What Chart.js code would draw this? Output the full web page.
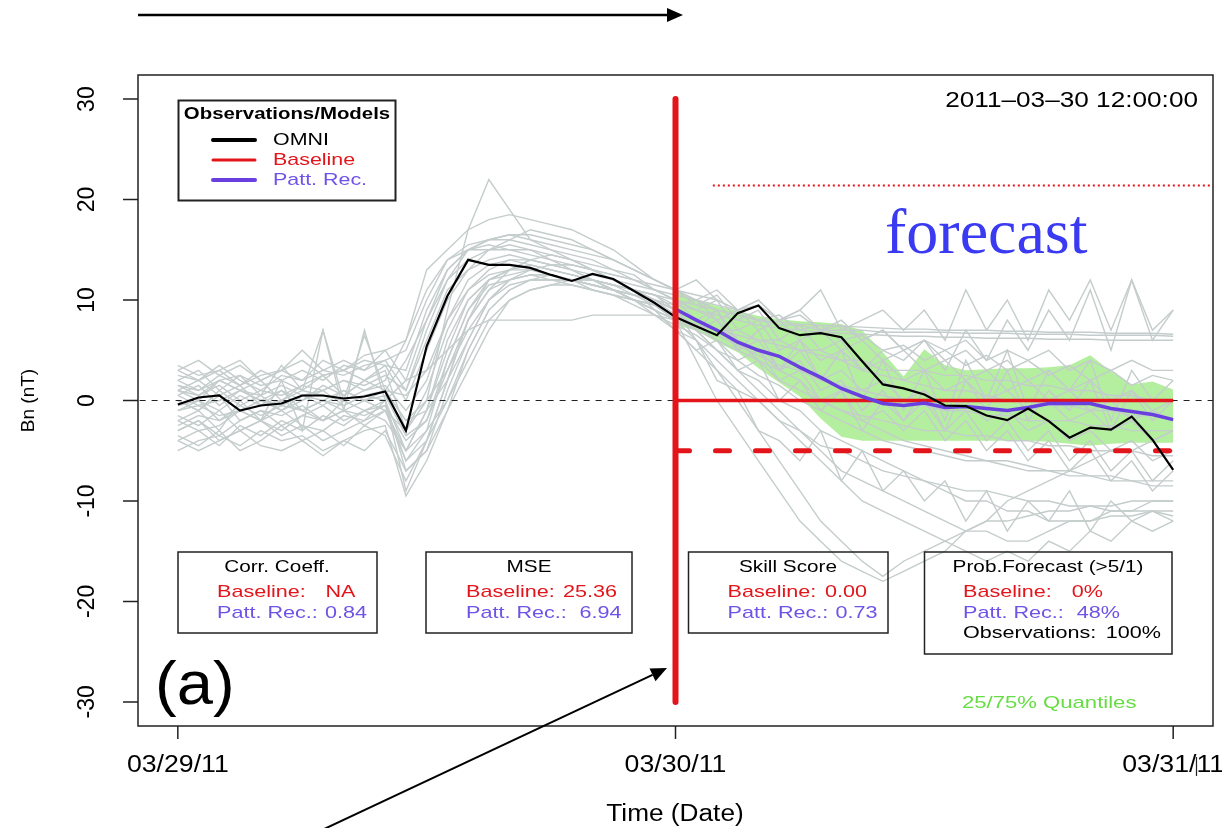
<!DOCTYPE html>
<html>
<head>
<meta charset="utf-8">
<script src="https://cdn.jsdelivr.net/npm/chart.js@4.4.1/dist/chart.umd.min.js"></script>
<style>
  html, body { margin: 0; padding: 0; background: #fff; }
  #wrap { width: 1222px; height: 828px; }
</style>
</head>
<body>
<div id="wrap"><canvas id="bn" width="1222" height="828"></canvas></div>
<script>
// hours since 03/29/11 00:00
const hours = [0,1,2,3,4,5,6,7,8,9,10,11,12,13,14,15,16,17,18,19,20,21,22,23,24,
               25,26,27,28,29,30,31,32,33,34,35,36,37,38,39,40,41,42,43,44,45,46,47,48];
const fcHours = hours.slice(24);

// OMNI observed Bn (nT)
const omni = [-0.4,0.3,0.5,-1.0,-0.5,-0.3,0.5,0.5,0.2,0.4,0.9,-3.0,
  5.4,10.4,14.0,13.5,13.5,13.2,12.5,11.9,12.6,12.1,10.9,9.7,
  8.3,7.4,6.5,8.7,9.45,7.2,6.5,6.7,6.3,3.9,1.6,1.2,
  0.6,-0.5,-0.55,-1.5,-1.95,-0.8,-2.05,-3.7,-2.7,-2.9,-1.6,-3.9,-6.9];

// pattern recognition forecast (median), hours 24..48
const pattRec = [9.1,8.0,7.0,5.8,5.0,4.4,3.3,2.3,1.2,0.4,-0.3,-0.5,-0.25,-0.7,-0.6,-0.8,-1.0,-0.7,-0.3,-0.3,-0.3,-0.8,-1.1,-1.4,-1.9];
// 25/75% quantiles, hours 24..48
const q75 = [10.9,10.0,9.4,8.9,8.4,8.1,7.9,7.8,7.6,7.0,4.8,2.4,5.1,3.5,3.0,3.1,3.2,3.2,3.3,3.5,4.5,2.9,1.6,1.9,1.1];
const q25 = [7.5,7.0,5.8,4.8,3.2,1.8,0.4,-1.8,-3.6,-4.0,-4.0,-4.0,-4.0,-4.0,-4.0,-4.0,-4.0,-4.0,-4.1,-4.3,-4.5,-4.3,-4.2,-4.2,-4.2];

// analogue ensemble members (grey)
const m01 = [1,0.5,1.5,0,1,0.5,1.5,1,2,1.5,2.5,1, 6,11,13,14,14.5,14,13.5,13,12.5,12,11,10.5, 10,9.5,9,8.5,8,7.8,7.6,7.5,7.4,7.3,7.2,7.1, 7.1,7,7,7,6.9,6.9,6.8,6.8,6.8,6.7,6.7,6.7,6.6];
const m02 = [-1,-0.5,-1.5,-1,0,-0.5,0.5,0,-1,0,1,0.5, 3,8,11,12.5,13,13.5,13,12.5,12,11.5,11,10, 9.5,9,8.5,8,7.5,7.2,7,6.8,6.7,6.6,6.5,6.4, 6.4,6.3,6.3,6.2,6.2,6.2,6.1,6.1,6.1,6,6,6,6];
const m03 = [2,3,1,2.5,0.5,3.5,1,7,0,6.5,1,-2, 0,9,17,22,19,16,15,14,13,12,11,9, 8,7,9,6,4,3,5,2,3,1,2,0, 1,-1,0,-2,-1,-3,-2,-4,-3,-5,-4,-6,-5];
const m04 = [-3,-2,-4,-3,-2,-3.5,-2.5,-4,-3,-2,-1,-6, -3,4,9,12,13,14,13.5,13,12,11,10.5,10, 9,6,3,0,-3,-6,-9,-12,-14,-16,-17.5,-16, -15,-14,-13,-12,-12,-11.5,-11,-11,-10.5,-10.5,-10,-10,-10];
const m05 = [3,2,3.5,2,1,2.5,2,3,2.5,3.5,4,1, 7,12,15,16,16.5,16,15.5,15,14.5,14,13,12, 11,12,10,9,10,8,9,11,7,8,9,7, 9,6,11,7,10,6,11,8,12,7,12,7,9];
const m06 = [0,-1,0.5,-2,-1,-1.5,-0.5,-2,-1,-1.5,-0.5,-4, -2,3,7,10,11.5,12,12.5,12,11.5,11,10,9, 7,5,3,1,0,-2,-3,-4.5,-5,-6,-7,-7.5, -8,-8.5,-9,-9,-9.5,-10,-10,-10.5,-10.5,-11,-11,-11,-11.5];
const m07 = [-2,-1,-3,0,-2,2,-3,7,-1,7,0,-9, -4,2,8,12,13,13,12.5,12,12,11,10.5,10, 8.5,7,6,4,5,2,3,0,1,-2,-1,-3, -1,-4,-2,-5,-3,-6,-4,-7,-5,-8,-6,-9,-7];
const m08 = [1.5,1,2,2.5,1.5,2,3,2,3.5,3,4,5, 10,14,15.5,16,16,15.5,15,14.5,14,13,12.5,11, 10.5,10,9.5,9,8,8.5,7,7.5,6,6.5,5,5.5, 4,5,3.5,4.5,3,4,2.5,3.5,2,3,1.5,2.5,2];
const m09 = [-4,-3,-4.5,-2.5,-3.5,-2,-3,-1.5,-2.5,-1,-2,-5, -1,5,10,12,12.5,13,12.5,12,11,10.5,9.5,8.5, 7.5,6.5,5,4,2.5,1.5,0,-1,-2,-3,-4,-4.5, -5,-5.5,-6,-6,-6.5,-7,-7,-7.5,-7.5,-8,-8,-8.5,-8.5];
const m10 = [0.5,1.5,-0.5,1,2,0,1.5,2.5,0.5,2,3,-3, 1,7,11,13,14,14,13.5,13.5,13,12,11.5,11, 10,8,9,5,7,3,6,2,5,0,4,-1, 3,-2,4,0,5,-1,3,1,4,-2,3,0,2];
const m11 = [-1.5,-2.5,-1,-3,-2,-1,-2.5,-3,-1.5,-2,0,-7, -5,1,6,10,12,12.5,12.5,12,11.5,11,10,9.5, 8,4,0,-3,-6,-9,-12,-14,-16,-17,-18,-17, -16,-15,-13,-12,-10,-9,-8,-7,-6,-5,-5,-4,-3];
const m12 = [2.5,2,3,1.5,2.5,3,2,4,3,4.5,5,6, 13,15,17,18,18.5,18,17.5,17,16,15,13.5,12, 11,10,11,9,10,8,9,7,8,6,7,5, 6,4,5,3,4,2,3,1,2,0,1,-1,0];
const m13 = [-0.5,0,-1,0.5,-0.5,0,1,0.5,0,1,1.5,-1, 2,8,12,13.5,14,13.5,13,12.5,12,11.5,10.5,9.5, 8.5,7.5,6.5,5.5,4.5,3.5,3,2,1.5,1,0.5,0, -0.5,-1,-1,-1.5,-1.5,-2,-2,-2,-2.5,-2.5,-3,-3,-3];
const m14 = [-5,-4,-3.5,-4.5,-3,-4,-3.5,-5,-4,-3,-2.5,-9.5, -6,-1,5,9,11,12,12,12,11.5,11,10,9, 7,5,6,3,4,0,2,-1,1,-3,0,-2, 1,-3,2,-1,3,-2,1,-1,2,-3,1,-2,0];
const m15 = [1,0,2,1,0,1,-1,0,1,0,-1,-5, -1,6,10,12,13,13.5,13,12.5,12,11,10,8.5, 7,6,2,1,-3,-4,-6,-3,-8,-5,-9,-7, -10,-8,-12,-9,-13,-10,-12,-9,-13,-10,-12,-11,-12];
const m16 = [-2.5,-1.5,-2,-0.5,-1.5,-0.5,-1,0,-0.5,0.5,0,2, 3,5,7,8,8,8,8,8,8.5,8.5,8.5,8.5, 8,7.5,7,6.5,6,5.5,5,4.5,4,3,2.5,2, 1.5,1,1,0.5,0,0,-0.5,-0.5,-1,-1,-1.5,-1.5,-2];
const m17 = [3.5,2.5,3,4,2,3,5,3,4,3,5,2, 8,13,15,15.5,15,15,14.5,14,13.5,13,12,11.5, 11,9.5,10.5,8,9,6,7.5,5,6,3,5,4, 6,3,7,4,8,5,9,6,11,5,12,6,9];
const m18 = [-3.5,-4.5,-3,-5,-4,-2.5,-4,-3,-4.5,-2.5,-3.5,-8, -4,2,8,11,12,12.5,12.5,12,11.5,11,10,9, 8,6,4,2,0,-2,-4,-6,-8,-10,-11,-12, -13,-14,-15,-16,-15,-16,-14,-15,-13,-14,-12,-13,-12];
const m19 = [0,-1,1,-0.5,0.5,-1,0,1,-0.5,0.5,1,-2, -1,2,6,10,12,13,13.5,13.5,13,12.5,12,11, 10,9,8,6,5,3,2,0,-1,-2,-3,-4, -4.5,-5,-5.5,-6,-6,-6.5,-7,-7,-7.5,-7.5,-8,-8,-8];
const m20 = [2,1,2.5,1.5,3,2,1,2.5,3,2,3.5,0, 5,10,13,15,15.5,15,14,13,12,11.5,11,10.5, 9.5,10,8,9,7,8,6,7,5,6,4,5, 3,4,2,3,1,2,0,1,-1,0,-2,-1,-2];
const m21 = [-2,-3,-2.5,-1,-2,-3,-1.5,-2,-1,-2.5,-1,-3, 0,3,8,11,13,14,14.5,14,13,12,11,10, 9,8,7,7,6,6,5,5,4,4,3,3, 3,2.5,2.5,2,2,1.5,1.5,1,1,0.5,0.5,0,0];
const m22 = [1,2,0.5,1.5,-0.5,1,0,1.5,0.5,2,1,4, 8,12,14,15,16,17,16.5,16,15,14,13,12, 11,10,9,8.5,8,7.5,7.5,7,7,7,6.8,6.8, 6.8,6.8,6.7,6.7,6.7,6.6,6.6,6.6,6.5,6.5,6.5,6.5,6.4];
const m23 = [-3,-2,-3.5,-2,-1,-2.5,-1.5,-0.5,-2,-1,0,-5, -3,0,4,8,10,11,11.5,12,12,11.5,11,10.5, 9,7,5,3,2,0,-1,-3,-4,-5,-6,-7, -8,-9,-10,-10,-11,-11,-12,-12,-12,-11.5,-11.5,-11,-11];
const m24 = [0.5,-0.5,0,1,0,-1,0.5,-0.5,1,0,0.5,-3.5, -2,4,9,11.5,12,12.5,12,11.5,11,10.5,10,9.5, 8,7,8,5,6,3,4,1,2,-1,1,-2, 0,-3,-1,-4,-2,-5,-3,-6,-4,-7,-5,-8,-6];
const m25 = [3,4,2.5,3.5,2,3,4,2.5,3,4,3.5,3, 9,13,15,16,16.5,16.5,16,15.5,15,14,13,12, 11,10.5,10,9,9.5,8,8.5,7,7.5,6,7,5, 6,5,6,4,5,4,5,3,4,3,4,3,3];
const m26 = [-1,0,-2,-1,-2,0,-1,-2,0,-1,-0.5,-6, -4,0,5,9,11,12,12,12,11.5,11,10.5,10, 9,7,5,3,1,-1,-3,-5,-7,-8,-9,-10, -11,-12,-13,-13,-14,-14,-13,-12,-12,-11,-11,-10,-10];
const m27 = [-4,-5,-4,-3,-4.5,-5,-4,-5.5,-4,-5,-3,-7, -5,-1,3,7,10,11,11.5,11.5,11,10.5,10,9.5, 8.5,7.5,6,5,4,2,1,0,-1,-1.5,-2,-2.5, -3,-3,-3.5,-3.5,-4,-4,-4.5,-4.5,-5,-5,-5,-5.5,-5.5];
const m28 = [1.5,0.5,2,1,0.5,1.5,0.5,1,2,1,2,6, 11,14,15,15,15,14.5,14,13.5,13,12.5,12,11, 10,9,10,7,8,5,6,4,5,3,4,2, 3,1,2,0,1,-1,0,-2,-1,-3,-2,-4,-3];
const members = [m01,m02,m03,m04,m05,m06,m07,m08,m09,m10,m11,m12,m13,m14,
                 m15,m16,m17,m18,m19,m20,m21,m22,m23,m24,m25,m26,m27,m28];

// reference levels
const nowHour = 24;
const markerSpan = [30, -30];
const baselineLevel = 0;
const thresholdLevel = -5;
const upperRef = 21.4;
const upperRefSpan = [25.8, 50];

// axes
const xTicks = [0, 24, 48];
const xTickLabels = ['03/29/11', '03/30/11', '03/31/11'];
const yTicks = [-30, -20, -10, 0, 10, 20, 30];

// score boxes text
const corrVals = ['NA', '0.84'];
const mseVals = ['25.36', '6.94'];
const skillVals = ['0.00', '0.73'];
const probVals = ['0%', '48%', '100%'];

const RED = '#e3151b';
const PURPLE = '#6a3fe0';
const PURPLE_TXT = '#6f52e6';
const GREY = '#c4cccc';

function pts(xs, ys) {
  return ys.map((y, i) => ({ x: xs[i], y: y }));
}

function txt(ctx, s, x, y, font, color, align, sx) {
  ctx.save();
  ctx.translate(x, y);
  ctx.scale(sx || 1, 1);
  ctx.font = font;
  ctx.fillStyle = color;
  ctx.textAlign = align || 'left';
  ctx.textBaseline = 'middle';
  ctx.fillText(s, 0, 0);
  ctx.restore();
}

function arrow(ctx, x1, y1, x2, y2) {
  const ang = Math.atan2(y2 - y1, x2 - x1);
  const len = 16, half = 7;
  const bx = x2 - len * Math.cos(ang), by = y2 - len * Math.sin(ang);
  ctx.beginPath();
  ctx.moveTo(x1, y1);
  ctx.lineTo(bx, by);
  ctx.stroke();
  ctx.beginPath();
  ctx.moveTo(x2, y2);
  ctx.lineTo(bx + half * Math.sin(ang), by - half * Math.cos(ang));
  ctx.lineTo(bx - half * Math.sin(ang), by + half * Math.cos(ang));
  ctx.closePath();
  ctx.fill();
}

const SANS = '"Liberation Sans", Arial, sans-serif';
const F17 = '17px ' + SANS;

const overlay = {
  id: 'overlay',
  afterDraw(chart) {
    const ctx = chart.ctx;
    const xs = chart.scales.x, ys = chart.scales.y;
    const a = chart.chartArea;
    ctx.save();

    // frame and tick marks
    ctx.strokeStyle = '#222';
    ctx.lineWidth = 1.5;
    ctx.strokeRect(a.left, a.top, a.right - a.left, a.bottom - a.top);
    ctx.beginPath();
    xTicks.forEach(h => {
      const px = xs.getPixelForValue(h);
      ctx.moveTo(px, a.bottom); ctx.lineTo(px, a.bottom + 13);
    });
    yTicks.forEach(v => {
      const py = ys.getPixelForValue(v);
      ctx.moveTo(a.left, py); ctx.lineTo(a.left - 15, py);
    });
    ctx.stroke();

    // tick labels
    xTicks.forEach((h, i) => {
      txt(ctx, xTickLabels[i], xs.getPixelForValue(h), 766, '23px ' + SANS, '#000', 'center', 1.16);
    });
    ctx.beginPath();
    ctx.lineWidth = 1.2;
    ctx.moveTo(1196.5, 757); ctx.lineTo(1196.5, 776);
    ctx.stroke();
    yTicks.forEach(v => {
      ctx.save();
      ctx.translate(88, ys.getPixelForValue(v));
      ctx.rotate(-Math.PI / 2);
      txt(ctx, String(v), 0, 0, '23px ' + SANS, '#000', 'center', 1);
      ctx.restore();
    });

    // axis titles
    txt(ctx, 'Time (Date)', 675, 815, '23px ' + SANS, '#000', 'center', 1.14);
    ctx.save();
    ctx.translate(29, ys.getPixelForValue(0));
    ctx.rotate(-Math.PI / 2);
    txt(ctx, 'Bn (nT)', 0, 0, '19px ' + SANS, '#000', 'center', 1);
    ctx.restore();

    // legend
    ctx.lineWidth = 2;
    ctx.strokeStyle = '#222';
    ctx.strokeRect(178.5, 100.5, 217, 100);
    txt(ctx, 'Observations/Models', 287, 114, 'bold 17px ' + SANS, '#000', 'center', 1.2);
    [['OMNI', '#000', '#000', 4], ['Baseline', RED, RED, 3], ['Patt. Rec.', PURPLE, PURPLE_TXT, 4]].forEach((e, i) => {
      const y = 140 + i * 20;
      ctx.beginPath();
      ctx.strokeStyle = e[1];
      ctx.lineWidth = e[3];
      ctx.lineCap = 'round';
      ctx.moveTo(213, y); ctx.lineTo(255, y);
      ctx.stroke();
      txt(ctx, e[0], 273, y, F17, e[2], 'left', 1.26);
    });
    ctx.lineCap = 'butt';

    // date stamp, label, annotation
    txt(ctx, '2011\u201303\u201330 12:00:00', 1198, 101, '22px ' + SANS, '#000', 'right', 1.19);
    ctx.save();
    ctx.font = '64px "Liberation Serif", "Times New Roman", serif';
    ctx.fillStyle = '#3a3af2';
    ctx.textBaseline = 'alphabetic';
    ctx.fillText('forecast', 885, 253);
    ctx.restore();
    ctx.save();
    ctx.translate(155, 704);
    ctx.scale(1.05, 1);
    ctx.font = '62px ' + SANS;
    ctx.fillStyle = '#000';
    ctx.textBaseline = 'alphabetic';
    ctx.fillText('(a)', 0, 0);
    ctx.restore();
    txt(ctx, '25/75% Quantiles', 962, 703, F17, '#66dd44', 'left', 1.3);

    // score boxes
    ctx.strokeStyle = '#222';
    ctx.lineWidth = 1.5;
    const boxes = [
      { x: 178, w: 199, h: 81, title: 'Corr. Coeff.', cx: 277, lx: 217, rows: [['Baseline:', corrVals[0], 355.5, RED], ['Patt. Rec.:', corrVals[1], 367, PURPLE_TXT]] },
      { x: 426, w: 206, h: 81, title: 'MSE', cx: 529, lx: 466, rows: [['Baseline:', mseVals[0], 617, RED], ['Patt. Rec.:', mseVals[1], 621.5, PURPLE_TXT]] },
      { x: 688.5, w: 199.5, h: 81, title: 'Skill Score', cx: 788, lx: 727.5, rows: [['Baseline:', skillVals[0], 867, RED], ['Patt. Rec.:', skillVals[1], 877.5, PURPLE_TXT]] },
      { x: 924.5, w: 247.5, h: 102, title: 'Prob.Forecast (>5/1)', cx: 1048, lx: 963, rows: [['Baseline:', probVals[0], 1103, RED], ['Patt. Rec.:', probVals[1], 1120, PURPLE_TXT], ['Observations:', probVals[2], 1161, '#000']] }
    ];
    boxes.forEach(b => {
      ctx.strokeRect(b.x, 552, b.w, b.h);
      txt(ctx, b.title, b.cx, 567, F17, '#000', 'center', 1.22);
      b.rows.forEach((r, i) => {
        const y = 592.5 + i * 20.5;
        txt(ctx, r[0], b.lx, y, F17, r[3], 'left', 1.27);
        txt(ctx, r[1], r[2], y, F17, r[3], 'right', 1.27);
      });
    });

    // arrows
    ctx.strokeStyle = '#000';
    ctx.fillStyle = '#000';
    ctx.lineWidth = 2.3;
    arrow(ctx, 138, 15, 683, 15);
    ctx.lineWidth = 2;
    arrow(ctx, 322, 830, 667, 668);

    ctx.restore();
  }
};

const datasets = [];
datasets.push({ data: pts([nowHour, nowHour], markerSpan), borderColor: RED, borderWidth: 6, borderCapStyle: 'round', order: 1 });
datasets.push({ data: pts(hours, omni), borderColor: '#000', borderWidth: 2.2, order: 2 });
datasets.push({ data: pts(fcHours, pattRec), borderColor: PURPLE, borderWidth: 3.5, order: 3 });
datasets.push({ data: pts([nowHour, 48], [baselineLevel, baselineLevel]), borderColor: RED, borderWidth: 3.5, order: 4 });
datasets.push({ data: pts([nowHour, 48], [thresholdLevel, thresholdLevel]), borderColor: RED, borderWidth: 5, borderDash: [14, 26], borderCapStyle: 'round', order: 5 });
datasets.push({ data: pts(upperRefSpan, [upperRef, upperRef]), borderColor: RED, borderWidth: 1.8, borderDash: [2, 3], order: 6 });
datasets.push({ data: pts([-3, 51], [0, 0]), borderColor: '#222', borderWidth: 1, borderDash: [6, 6], order: 12 });
members.forEach(m => {
  datasets.push({ data: pts(hours, m), borderColor: GREY, borderWidth: 1.4, order: 15 });
});
const qLowIndex = datasets.length;
datasets.push({ data: pts(fcHours, q25), borderColor: 'rgba(0,0,0,0)', borderWidth: 0, order: 20 });
datasets.push({ data: pts(fcHours, q75), borderColor: 'rgba(0,0,0,0)', borderWidth: 0, backgroundColor: '#b3ef9f', fill: qLowIndex, order: 20 });

new Chart(document.getElementById('bn'), {
  type: 'line',
  data: { datasets: datasets },
  options: {
    responsive: false,
    devicePixelRatio: 1,
    animation: false,
    layout: { padding: { left: 138, right: 9, top: 75, bottom: 102 } },
    elements: { point: { radius: 0 }, line: { tension: 0, fill: false } },
    plugins: { legend: { display: false }, tooltip: { enabled: false } },
    scales: {
      x: { type: 'linear', min: -1.92, max: 49.92, display: false },
      y: { type: 'linear', min: -32.4, max: 32.4, display: false }
    }
  },
  plugins: [overlay]
});
</script>
</body>
</html>
